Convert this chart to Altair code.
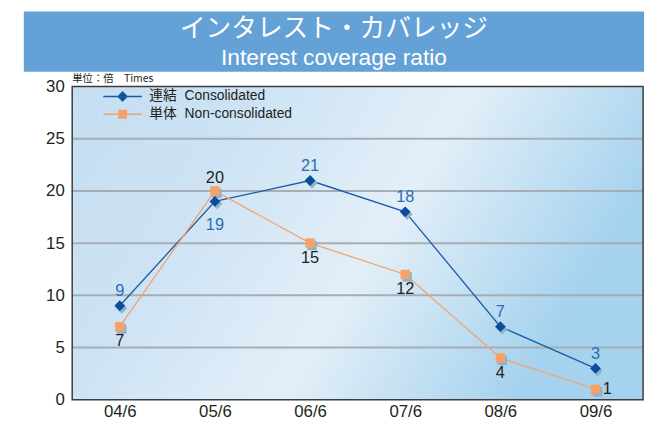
import altair as alt
import pandas as pd

# ---- data ----
periods = ["04/6", "05/6", "06/6", "07/6", "08/6", "09/6"]
consolidated = [9, 19, 21, 18, 7, 3]
non_consolidated = [7, 20, 15, 12, 4, 1]
series_names = ["連結\u00a0\u00a0Consolidated", "単体\u00a0\u00a0Non-consolidated"]
cons_label_side = ["above", "below", "above", "above", "above", "above"]
non_label_side = ["below", "above", "below", "below", "below", "right"]
y_ticks = [0, 5, 10, 15, 20, 25, 30]
grid_values = [5, 10, 15, 20, 25]
title_jp = "インタレスト・カバレッジ"
title_en = "Interest coverage ratio"
unit_text = "単位：倍　Times"

rows = []
for i, p in enumerate(periods):
    rows.append(dict(period=p, value=consolidated[i], series=series_names[0], side=cons_label_side[i]))
    rows.append(dict(period=p, value=non_consolidated[i], series=series_names[1], side=non_label_side[i]))
df = pd.DataFrame(rows)
grid_df = pd.DataFrame({"value": grid_values})
one = pd.DataFrame({"k": [0]})

W, H = 578, 317
FONT = "Liberation Sans, Arial, Noto Sans CJK JP"
JFONT = "Noto Sans CJK JP, Liberation Sans"

line_colors = ["#1c5aa6", "#f4a36c"]
point_colors = ["#0b4f9c", "#f7a168"]
label_colors = ["#2a6db5", "#231f20"]
shadow_color = "#8cb2cc"

y_axis = alt.Axis(title=None, values=y_ticks, ticks=False, domain=False, grid=False,
                  labelFontSize=17, labelFont=FONT, labelColor="#231f20", labelPadding=8)
xenc = alt.X("period:N", sort=periods, scale=alt.Scale(domain=periods),
             axis=alt.Axis(title=None, labelAngle=0, ticks=False, domain=False, grid=False,
                           labelFontSize=17, labelFont=FONT, labelColor="#231f20", labelPadding=4))
yscale = alt.Scale(domain=[0, 30], nice=False, zero=True)
yenc = alt.Y("value:Q", scale=yscale, axis=y_axis)

base = alt.Chart(df)

bg_gradient = alt.LinearGradient(
    gradient="linear", x1=0, y1=0, x2=1, y2=0.34,
    stops=[alt.GradientStop(offset=0, color="#c5def2"),
           alt.GradientStop(offset=0.3, color="#cde3f4"),
           alt.GradientStop(offset=0.63, color="#e3eff8"),
           alt.GradientStop(offset=1, color="#a5d2ee")])
background = alt.Chart(one).mark_rect(fill=bg_gradient).encode(
    x=alt.value(0), x2=alt.value(W), y=alt.value(0), y2=alt.value(H))
frame = alt.Chart(one).mark_rect(fill="transparent", stroke="#3c3c3c", strokeWidth=1.5).encode(
    x=alt.value(0), x2=alt.value(W), y=alt.value(0), y2=alt.value(H))

grid = alt.Chart(grid_df).mark_rule(color="#a6adb5", strokeWidth=2).encode(
    y=alt.Y("value:Q", scale=yscale, axis=y_axis)
)

shapes = ["diamond", "square"]
sizes = [120, 90]

series_layers = []
shadow_layers = []
point_layers = []
for s in range(2):
    sub = base.transform_filter(alt.datum.series == series_names[s])
    series_layers.append(sub.mark_line(strokeWidth=1.3, color=line_colors[s]).encode(x=xenc, y=yenc))
    shadow_layers.append(sub.mark_point(filled=True, opacity=1, color=shadow_color, shape=shapes[s],
                                        size=sizes[s], xOffset=2, yOffset=2.5).encode(x=xenc, y=yenc))
    point_layers.append(sub.mark_point(filled=True, opacity=1, color=point_colors[s], shape=shapes[s],
                                       size=sizes[s]).encode(x=xenc, y=yenc))

lab_style = dict(fontSize=16.5, font=FONT)
cons = base.transform_filter(alt.datum.series == series_names[0])
non = base.transform_filter(alt.datum.series == series_names[1])
label_layers = [
    cons.transform_filter(alt.datum.side == "above").mark_text(
        dy=-15, color=label_colors[0], **lab_style).encode(x=xenc, y=yenc, text="value:Q"),
    cons.transform_filter(alt.datum.side == "below").mark_text(
        dy=24, color=label_colors[0], **lab_style).encode(x=xenc, y=yenc, text="value:Q"),
    non.transform_filter(alt.datum.side == "above").mark_text(
        dy=-13, color=label_colors[1], **lab_style).encode(x=xenc, y=yenc, text="value:Q"),
    non.transform_filter(alt.datum.side == "below").mark_text(
        dy=15, color=label_colors[1], **lab_style).encode(x=xenc, y=yenc, text="value:Q"),
    non.transform_filter(alt.datum.side == "right").mark_text(
        dx=12, color=label_colors[1], **lab_style).encode(x=xenc, y=yenc, text="value:Q"),
]

# legend-only layer (draws nothing; the legend comes from the scale domain)
legend_paths = [
    "M-3.9,0L3.9,0M-0.9,0L0,-0.9L0.9,0L0,0.9Z",
    "M-3.9,0L3.9,0M-0.75,-0.75L0.75,-0.75L0.75,0.75L-0.75,0.75Z",
]
leg = alt.Legend(title=None, orient="none", legendX=44, legendY=3,
                 labelFontSize=14, labelFont=FONT, labelColor="#231f20",
                 labelOffset=20, rowPadding=3, symbolStrokeWidth=1.4, padding=0)
legend_layer = base.transform_filter("false").mark_point(filled=True, opacity=1, size=100).encode(
    x=xenc, y=yenc,
    shape=alt.Shape("series:N", scale=alt.Scale(domain=series_names, range=legend_paths), legend=leg),
    fill=alt.Fill("series:N", scale=alt.Scale(domain=series_names, range=point_colors), legend=leg),
    stroke=alt.Stroke("series:N", scale=alt.Scale(domain=series_names, range=line_colors), legend=leg),
)

# header banner and texts (decoration)
banner = alt.Chart(one).mark_rect(color="#63a1d7").encode(
    x=alt.value(-49), x2=alt.value(579), y=alt.value(-76), y2=alt.value(-15))
t1 = alt.Chart(one).mark_text(fontSize=26, font=JFONT, color="white", baseline="middle").encode(
    x=alt.value(265), y=alt.value(-58), text=alt.value(title_jp))
t2 = alt.Chart(one).mark_text(fontSize=23, font=FONT, color="white", baseline="alphabetic").encode(
    x=alt.value(265), y=alt.value(-22), text=alt.value(title_en))
unit = alt.Chart(one).mark_text(fontSize=10.5, font=JFONT, color="#231f20", align="left",
                                baseline="middle").encode(
    x=alt.value(0), y=alt.value(-8), text=alt.value(unit_text))

chart = alt.layer(
    banner, t1, t2, unit, background, grid, frame,
    *series_layers, *shadow_layers, *point_layers, *label_layers, legend_layer
).properties(
    width=W, height=H,
    padding={"left": 65, "top": 77, "right": 8, "bottom": 18},
    autosize=alt.AutoSizeParams(type="none"),
).configure_view(stroke=None)

chart.save("out.html", embed_options={"renderer": "svg", "actions": False})
